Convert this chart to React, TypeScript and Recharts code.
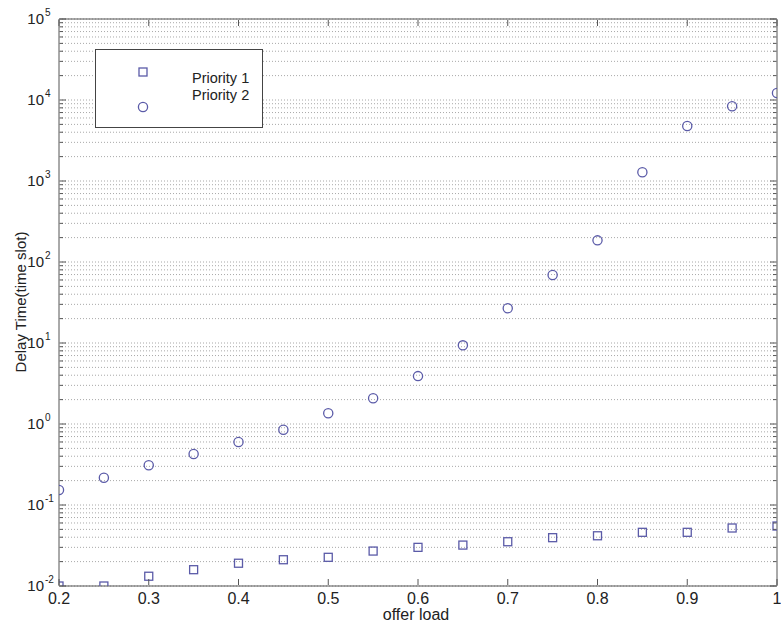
import React from "react";
import { ScatterChart, Scatter, XAxis, YAxis, CartesianGrid } from "recharts";

const offerLoad = [0.2, 0.25, 0.3, 0.35, 0.4, 0.45, 0.5, 0.55, 0.6, 0.65, 0.7, 0.75, 0.8, 0.85, 0.9, 0.95, 1.0];
const priority1 = [0.01, 0.01, 0.0132, 0.0159, 0.0191, 0.0211, 0.0226, 0.027, 0.03, 0.032, 0.0352, 0.0395, 0.0417, 0.046, 0.046, 0.052, 0.055];
const priority2 = [0.153, 0.217, 0.309, 0.427, 0.6, 0.85, 1.36, 2.08, 3.9, 9.36, 26.8, 69, 185, 1280, 4780, 8360, 12200];

const xTicks = [0.2, 0.3, 0.4, 0.5, 0.6, 0.7, 0.8, 0.9, 1];
const yExponents = [-2, -1, 0, 1, 2, 3, 4, 5];
const minorMultipliers = [2, 3, 4, 5, 6, 7, 8, 9];

const majorTicks = yExponents.map((e) => Math.pow(10, e));
const yTicks: number[] = [];
yExponents.forEach((e) => {
  yTicks.push(Math.pow(10, e));
  if (e < 5) minorMultipliers.forEach((m) => yTicks.push(m * Math.pow(10, e)));
});

const data1 = offerLoad.map((x, i) => ({ x, y: priority1[i] }));
const data2 = offerLoad.map((x, i) => ({ x, y: priority2[i] }));

const MARK = "#5b5ba8";
const AXIS = "#555";
const FONT = "'Liberation Sans', Arial, sans-serif";

const isMajor = (v: number) => majorTicks.some((m) => Math.abs(v - m) / m < 1e-6);
const expOf = (v: number) => Math.round(Math.log10(v));

const LeftTick = (props: any) => {
  const { x, y, payload } = props;
  const ax = x + 1;
  const major = isMajor(payload.value);
  return (
    <g>
      <line x1={ax} x2={ax + (major ? 6 : 3)} y1={y} y2={y} stroke={AXIS} strokeWidth={1} />
      {major && (
        <g fontFamily={FONT} fill="#222">
          <text x={ax - 16} y={y + 5} textAnchor="end" fontSize={15}>10</text>
          <text x={ax - 15} y={y - 3} textAnchor="start" fontSize={10}>{expOf(payload.value)}</text>
        </g>
      )}
    </g>
  );
};

const RightTick = (props: any) => {
  const { x, y, payload } = props;
  const ax = x - 1;
  const major = isMajor(payload.value);
  return <line x1={ax} x2={ax - (major ? 6 : 3)} y1={y} y2={y} stroke={AXIS} strokeWidth={1} />;
};

const BottomTick = (props: any) => {
  const { x, y, payload } = props;
  const ay = y - 1;
  return (
    <g>
      <line x1={x} x2={x} y1={ay} y2={ay - 6} stroke={AXIS} strokeWidth={1} />
      <text x={x} y={ay + 19} textAnchor="middle" fontSize={16} fontFamily={FONT} fill="#222">
        {payload.value}
      </text>
    </g>
  );
};

const TopTick = (props: any) => {
  const { x, y } = props;
  const ay = y + 1;
  return <line x1={x} x2={x} y1={ay} y2={ay + 6} stroke={AXIS} strokeWidth={1} />;
};

const SquareShape = (props: any) => {
  const { cx, cy } = props;
  return <rect x={cx - 4} y={cy - 4} width={8} height={8} fill="none" stroke={MARK} strokeWidth={1.3} />;
};

const CircleShape = (props: any) => {
  const { cx, cy } = props;
  return <circle cx={cx} cy={cy} r={4.6} fill="none" stroke={MARK} strokeWidth={1.3} />;
};

export default function App() {
  return (
    <div style={{ position: "absolute", left: 0, top: 0, width: 781, height: 628, background: "#fff" }}>
      <ScatterChart width={781} height={628} margin={{ top: 18, right: 3, bottom: 41, left: 58 }}>
        <CartesianGrid
          vertical={false}
          horizontal={true}
          stroke="#a8a8a8"
          strokeDasharray="1 2"
          xAxisId="b"
          yAxisId="l"
        />
        <XAxis
          xAxisId="b"
          dataKey="x"
          type="number"
          domain={[0.2, 1]}
          ticks={xTicks}
          interval={0}
          height={1}
          tickSize={0}
          tickMargin={0}
          tickLine={false}
          axisLine={{ stroke: AXIS }}
          tick={BottomTick}
          allowDataOverflow
        />
        <XAxis
          xAxisId="t"
          orientation="top"
          dataKey="x"
          type="number"
          domain={[0.2, 1]}
          ticks={xTicks}
          interval={0}
          height={1}
          tickSize={0}
          tickMargin={0}
          tickLine={false}
          axisLine={{ stroke: AXIS }}
          tick={TopTick}
          allowDataOverflow
        />
        <YAxis
          yAxisId="l"
          dataKey="y"
          type="number"
          scale="log"
          domain={[0.01, 100000]}
          ticks={yTicks}
          interval={0}
          width={1}
          tickSize={0}
          tickMargin={0}
          tickLine={false}
          axisLine={{ stroke: AXIS }}
          tick={LeftTick}
          allowDataOverflow
        />
        <YAxis
          yAxisId="r"
          orientation="right"
          dataKey="y"
          type="number"
          scale="log"
          domain={[0.01, 100000]}
          ticks={yTicks}
          interval={0}
          width={1}
          tickSize={0}
          tickMargin={0}
          tickLine={false}
          axisLine={{ stroke: AXIS }}
          tick={RightTick}
          allowDataOverflow
        />
        <Scatter
          name="Priority 1"
          data={data1}
          xAxisId="b"
          yAxisId="l"
          shape={SquareShape}
          isAnimationActive={false}
        />
        <Scatter
          name="Priority 2"
          data={data2}
          xAxisId="b"
          yAxisId="l"
          shape={CircleShape}
          isAnimationActive={false}
        />
      </ScatterChart>
      <svg
        width={781}
        height={628}
        style={{ position: "absolute", left: 0, top: 0, pointerEvents: "none" }}
      >
        <text x={416} y={620} textAnchor="middle" fontSize={16} fontFamily={FONT} fill="#222">
          offer load
        </text>
        <text
          x={26}
          y={302}
          textAnchor="middle"
          fontSize={15}
          fontFamily={FONT}
          fill="#222"
          transform="rotate(-90 26 302)"
        >
          Delay Time(time slot)
        </text>
        <rect x={95.5} y={49.5} width={167} height={78} fill="#fff" stroke="#444" strokeWidth={1} />
        <rect x={139} y={68} width={8} height={8} fill="none" stroke={MARK} strokeWidth={1.3} />
        <circle cx={143} cy={107} r={4.6} fill="none" stroke={MARK} strokeWidth={1.3} />
        <text x={192} y={83} fontSize={14.5} fontFamily={FONT} fill="#222">Priority 1</text>
        <text x={192} y={100} fontSize={14.5} fontFamily={FONT} fill="#222">Priority 2</text>
      </svg>
    </div>
  );
}
